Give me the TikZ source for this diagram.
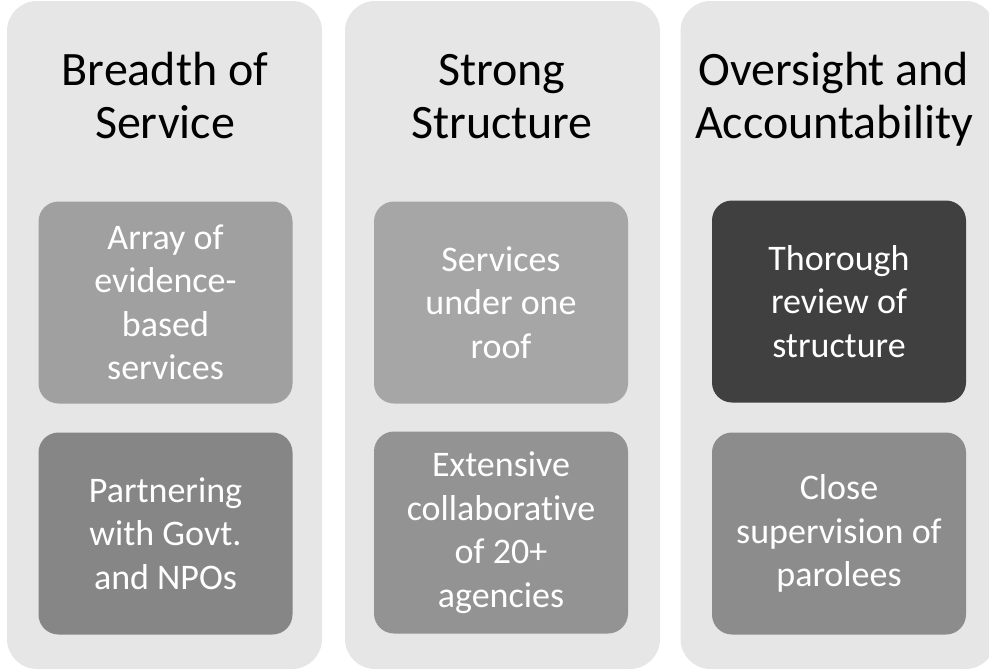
\documentclass[tikz,border=0pt]{standalone}
\usepackage{fontspec}
\setmainfont{Carlito}[Ligatures=CommonOff]
\definecolor{colbg}{HTML}{E6E6E6}
\definecolor{boxA}{HTML}{A0A0A0}
\definecolor{boxB}{HTML}{868686}
\definecolor{boxC}{HTML}{A6A6A6}
\definecolor{boxD}{HTML}{939393}
\definecolor{boxE}{HTML}{404040}
\definecolor{boxF}{HTML}{8C8C8C}
\tikzset{
  column/.style={fill=colbg, draw=none, rounded corners=30pt, minimum width=315pt, minimum height=668pt, inner sep=0pt},
  heading/.style={text=black, align=center, font=\fontsize{48}{53}\selectfont, inner sep=0pt},
  itembox/.style={draw=none, rounded corners=20pt, minimum width=254pt, minimum height=202pt, text=white, align=center, font=\fontsize{36}{43.5}\selectfont, inner sep=0pt}
}
\begin{document}
\begin{tikzpicture}[x=1pt,y=-1pt]
\useasboundingbox (0,0) rectangle (989,670);
\clip (0,0) rectangle (989,670);
\node[column] (c1) at (164.5,335) {};
\node[column] (c2) at (502.5,335) {};
\node[column] (c3) at (838,335) {};
\node[heading, anchor=base] (h1) at (165,138) {Breadth of\\Service};
\node[heading, anchor=base] (h2) at (502,138) {Strong\\Structure};
\node[heading, anchor=base] (h3) at (834,138) {Oversight and\\Accountability};
\node[itembox, fill=boxA] (b11) at (165.5,302.5) {Array of\\evidence-\\based\\services};
\node[itembox, fill=boxB] (b12) at (165.5,533.5) {Partnering\\with Govt.\\and NPOs};
\node[itembox, fill=boxC] (b21) at (501,302.5) {Services\\under one\\roof};
\node[itembox, fill=boxD] (b22) at (501,532.5) {Extensive\\collaborative\\of 20+\\agencies};
\node[itembox, fill=boxE] (b31) at (839,301.5) {Thorough\\review of\\structure};
\node[itembox, fill=boxF] (b32) at (839,533.5) {Close\\supervision of\\parolees};
\end{tikzpicture}
\end{document}
